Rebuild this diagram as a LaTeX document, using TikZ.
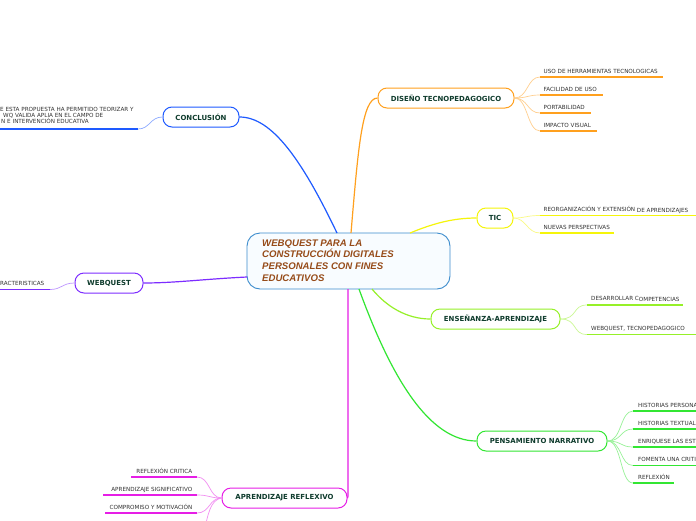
\documentclass[tikz,border=0pt]{standalone}
\usepackage{fontspec}
\setmainfont{DejaVu Sans}
\newfontfamily\centralfont{Liberation Sans}
\definecolor{cblue}{RGB}{60,140,205}
\definecolor{cfill}{RGB}{248,252,255}
\definecolor{ctext}{RGB}{150,75,25}
\definecolor{bconc}{RGB}{30,90,255}
\definecolor{bdis}{RGB}{255,160,30}
\definecolor{btic}{RGB}{245,245,10}
\definecolor{bweb}{RGB}{125,45,255}
\definecolor{bens}{RGB}{150,240,40}
\definecolor{bpen}{RGB}{50,230,50}
\definecolor{bref}{RGB}{230,30,230}
\definecolor{labelc}{RGB}{15,60,45}
\definecolor{leafc}{RGB}{50,50,50}
\tikzset{
  mainnode/.style={draw=cblue, line width=0.9pt, rounded corners=13pt, fill=cfill,
    minimum width=203pt, minimum height=56pt, inner sep=0pt},
  topic/.style={draw=#1, line width=1pt, rounded corners=9pt, fill=white,
    minimum height=20pt, inner sep=0pt, text=labelc,
    font=\bfseries\fontsize{6.95}{8}\selectfont},
  leaf/.style={font=\fontsize{5.65}{6}\selectfont, text=leafc, inner sep=0pt, anchor=base west},
  leafr/.style={font=\fontsize{5.65}{6}\selectfont, text=leafc, inner sep=0pt, anchor=base east},
  branch/.style={draw=#1, line width=1.2pt},
  subbr/.style={draw=#1!50, line width=0.7pt},
  uline/.style={draw=#1, line width=1.8pt},
}
\begin{document}
\begin{tikzpicture}[x=1pt,y=-1pt]
\useasboundingbox (0,0) rectangle (696,520);
\fill[white] (0,0) rectangle (696,520);
\begin{scope}
\clip (0,0) rectangle (696,520);

% ---------- main connectors ----------
\coordinate (mConc) at (337,233);
\coordinate (mDis) at (351,233);
\coordinate (mTic) at (410,233);
\coordinate (mWeb) at (247,277);
\coordinate (mEns) at (372,289);
\coordinate (mPen) at (359,289);
\coordinate (mRef) at (348,289);

\node[mainnode] (main) at (348.5,261) {};
\node[leaf, anchor=base west, align=left, text=ctext,
  font=\centralfont\bfseries\itshape\fontsize{9.6}{11.8}\selectfont] (maintxt) at (262,281.4)
  {WEBQUEST PARA LA\\CONSTRUCCIÓN DIGITALES\\PERSONALES CON FINES\\EDUCATIVOS};

\node[topic=bconc, minimum width=76pt] (conc) at (201,117) {CONCLUSIÓN};
\node[topic=bdis, minimum width=136pt] (dis) at (446,98) {DISEÑO TECNOPEDAGOGICO};
\node[topic=btic, minimum width=36pt] (tic) at (495,218) {TIC};
\node[topic=bweb, minimum width=68pt] (web) at (109,283) {WEBQUEST};
\node[topic=bens, minimum width=129pt] (ens) at (495.5,319) {ENSEÑANZA-APRENDIZAJE};
\node[topic=bpen, minimum width=130pt] (pen) at (542,441) {PENSAMIENTO NARRATIVO};
\node[topic=bref, minimum width=125pt] (ref) at (284.5,498) {APRENDIZAJE REFLEXIVO};

\draw[branch=bconc] (mConc) .. controls (302,160) and (272,117) .. (conc.east);
\draw[branch=bdis] (mDis) .. controls (358,150) and (362,98) .. (dis.west);
\draw[branch=btic] (mTic) .. controls (432,224) and (452,218) .. (tic.west);
\draw[branch=bweb] (mWeb) .. controls (205,279) and (175,283) .. (web.east);
\draw[branch=bens] (mEns) .. controls (386,306) and (406,319) .. (ens.west);
\draw[branch=bpen] (mPen) .. controls (392,380) and (430,441) .. (pen.west);
\draw[branch=bref] (mRef) -- (348,490) .. controls (348,497) .. (ref.east);

% ---------- CONCLUSION leaves ----------
\coordinate (c1s) at (138,129); \coordinate (c1e) at (0,129);
\draw[subbr=bconc] (conc.west) .. controls (150,117) and (150,129) .. (c1s);
\draw[uline=bconc] (c1s) -- (c1e);
\node[leaf] (c1a) at (0,111.3) {E ESTA PROPUESTA HA PERMITIDO TEORIZAR Y};
\node[leaf] (c1b) at (3,117.5) {WQ VALIDA APLIA EN EL CAMPO DE};
\node[leaf] (c1c) at (1,123.8) {N E INTERVENCIÓN EDUCATIVA};

% ---------- WEBQUEST leaves ----------
\coordinate (w1s) at (50,289.5); \coordinate (w1e) at (0,289.5);
\draw[subbr=bweb] (web.west) .. controls (62,283) and (62,289.5) .. (w1s);
\draw[uline=bweb] (w1s) -- (w1e);
\node[leaf] (w1) at (0,285.2) {RACTERISTICAS};

% ---------- DISENO leaves ----------
\foreach \y/\e/\t [count=\i] in {77/663/USO DE HERRAMIENTAS TECNOLOGICAS,
    95/603/FACILIDAD DE USO, 113/591/PORTABILIDAD, 131/597/IMPACTO VISUAL}{
  \coordinate (d\i s) at (540,\y); \coordinate (d\i e) at (\e,\y);
  \draw[subbr=bdis] (dis.east) .. controls (528,98) and (527,\y) .. (d\i s);
  \draw[uline=bdis] (d\i s) -- (d\i e);
  \node[leaf] (d\i) at (543.5,\y-4) {\t};
}

% ---------- TIC leaves ----------
\coordinate (t1s) at (540,215.5); \coordinate (t1e) at (696,215.5);
\coordinate (t2s) at (540,233); \coordinate (t2e) at (614,233);
\draw[subbr=btic] (tic.east) .. controls (526,218) and (526,215.5) .. (t1s);
\draw[subbr=btic] (tic.east) .. controls (526,218) and (527,233) .. (t2s);
\draw[uline=btic] (t1s) -- (t1e);
\draw[uline=btic] (t2s) -- (t2e);
\node[leaf] (t1) at (543.5,211.5) {REORGANIZACIÓN Y EXTENSIÓN \raisebox{-0.8pt}{DE APRENDIZAJES}};
\node[leaf] (t2) at (543.5,229) {NUEVAS PERSPECTIVAS};

% ---------- ENSENANZA leaves ----------
\coordinate (e1s) at (587,305); \coordinate (e1e) at (683,305);
\coordinate (e2s) at (587,334.5); \coordinate (e2e) at (696,334.5);
\draw[subbr=bens] (ens.east) .. controls (578,319) and (572,305) .. (e1s);
\draw[subbr=bens] (ens.east) .. controls (578,319) and (572,334.5) .. (e2s);
\draw[uline=bens] (e1s) -- (e1e);
\draw[uline=bens] (e2s) -- (e2e);
\node[leaf] (e1) at (591,300.5) {DESARROLLAR C\raisebox{-0.6pt}{OMPETENCIAS}};
\node[leaf] (e2) at (591,330.5) {WEBQUEST, TECNOPEDAGOGICO};

% ---------- PENSAMIENTO leaves ----------
\foreach \y/\e/\t [count=\i] in {411/696/HISTORIAS PERSONA, 429/696/HISTORIAS TEXTUAL,
    447/696/ENRIQUESE LAS EST, 465.5/696/FOMENTA UNA CRITI, 483/674/REFLEXIÓN}{
  \coordinate (p\i s) at (633,\y); \coordinate (p\i e) at (\e,\y);
  \draw[subbr=bpen] (pen.east) .. controls (622,441) and (620,\y) .. (p\i s);
  \draw[uline=bpen] (p\i s) -- (p\i e);
  \node[leaf] (p\i) at (638,\y-4) {\t};
}

% ---------- REFLEXIVO leaves ----------
\foreach \y/\s/\t [count=\i] in {477/131/REFLEXIÓN CRITICA,
    495/103/APRENDIZAJE SIGNIFICATIVO, 513/105/COMPROMISO Y MOTIVACIÓN}{
  \coordinate (r\i s) at (197,\y); \coordinate (r\i e) at (\s,\y);
  \draw[subbr=bref] (ref.west) .. controls (209,498) and (210,\y) .. (r\i s);
  \draw[uline=bref] (r\i s) -- (r\i e);
  \node[leafr] (r\i) at (192.5,\y-4) {\t};
}
\coordinate (r4s) at (204,532);
\draw[subbr=bref] (ref.west) .. controls (210,500) and (208,515) .. (r4s);
\end{scope}
\end{tikzpicture}
\end{document}
